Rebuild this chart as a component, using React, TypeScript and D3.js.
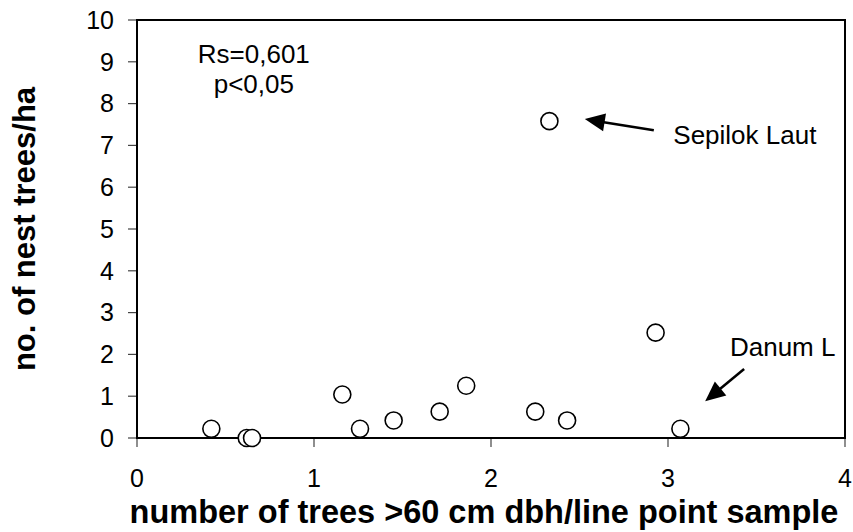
import React from "react";
import * as d3 from "d3";

// Sites: big trees per line-point sample vs. nest trees per hectare
const bigTrees = [0.42, 0.62, 0.65, 1.16, 1.26, 1.45, 1.71, 1.86, 2.25, 2.43, 2.93, 3.07, 2.33];
const nestTrees = [0.22, 0, 0, 1.04, 0.22, 0.42, 0.63, 1.25, 0.63, 0.42, 2.52, 0.22, 7.58];

const xTicks = [0, 1, 2, 3, 4];
const yTicks = [0, 1, 2, 3, 4, 5, 6, 7, 8, 9, 10];

// Labelled sites: arrow tail, arrow tip, label anchor (data units)
const annotations = [
  { label: "Sepilok Laut", tail: [2.92, 7.36], tip: [2.53, 7.63], text: [3.03, 7.04] },
  { label: "Danum L", tail: [3.43, 1.65], tip: [3.21, 0.88], text: [3.35, 1.95] },
];

const statLines = ["Rs=0,601", "p<0,05"];

const W = 853;
const H = 532;
const M = { left: 137, right: 8, top: 20, bottom: 94 };

export default function App() {
  const x = d3.scaleLinear().domain([0, 4]).range([M.left, W - M.right]);
  const y = d3.scaleLinear().domain([0, 10]).range([H - M.bottom, M.top]);
  const font = "Arial, 'Liberation Sans', sans-serif";

  const arrow = (tail: number[], tip: number[]) => {
    const x1 = x(tail[0]), y1 = y(tail[1]);
    const x2 = x(tip[0]), y2 = y(tip[1]);
    const ang = Math.atan2(y2 - y1, x2 - x1);
    const len = 20, half = 9;
    const bx = x2 - len * Math.cos(ang), by = y2 - len * Math.sin(ang);
    const px = -Math.sin(ang) * half, py = Math.cos(ang) * half;
    return {
      line: [x1, y1, bx + 4 * Math.cos(ang), by + 4 * Math.sin(ang)],
      head: `M${x2},${y2}L${bx + px},${by + py}L${bx - px},${by - py}Z`,
    };
  };

  return (
    <svg width={W} height={H} style={{ position: "absolute", left: 0, top: 0, background: "#fff" }} fontFamily={font}>
      {/* ticks */}
      {yTicks.map((t) => (
        <g key={"y" + t}>
          <line x1={x(0) - 9} x2={x(0)} y1={y(t)} y2={y(t)} stroke="#444" strokeWidth={1.2} />
          <text x={x(0) - 23} y={y(t)} dy="0.35em" textAnchor="end" fontSize={25} fill="#000">{t}</text>
        </g>
      ))}
      {xTicks.map((t) => (
        <g key={"x" + t}>
          <line x1={x(t)} x2={x(t)} y1={y(0)} y2={y(0) + 9} stroke="#444" strokeWidth={1.2} />
          <text x={x(t)} y={y(0) + 49} textAnchor="middle" fontSize={25} fill="#000">{t}</text>
        </g>
      ))}
      {/* plot frame */}
      <rect x={x(0)} y={y(10)} width={x(4) - x(0)} height={y(0) - y(10)} fill="none" stroke="#000" strokeWidth={2} />

      {/* points */}
      {bigTrees.map((v, i) => (
        <circle key={i} cx={x(v)} cy={y(nestTrees[i])} r={8.5} fill="#fff" stroke="#000" strokeWidth={1.6} />
      ))}

      {/* annotations */}
      {annotations.map((a) => {
        const ar = arrow(a.tail, a.tip);
        return (
          <g key={a.label}>
            <line x1={ar.line[0]} y1={ar.line[1]} x2={ar.line[2]} y2={ar.line[3]} stroke="#000" strokeWidth={2.5} />
            <path d={ar.head} fill="#000" />
            <text x={x(a.text[0])} y={y(a.text[1])} fontSize={26} fill="#000">{a.label}</text>
          </g>
        );
      })}
      {statLines.map((s, i) => (
        <text key={s} x={x(0.66)} y={63 + i * 30} textAnchor="middle" fontSize={26} fill="#000">{s}</text>
      ))}

      {/* axis titles */}
      <text x={(x(0) + x(4)) / 2 - 7} y={523} textAnchor="middle" fontSize={32.5} fontWeight="bold" fill="#000">
        number of trees &gt;60 cm dbh/line point sample
      </text>
      <text transform={`translate(35,${(y(0) + y(10)) / 2}) rotate(-90)`} textAnchor="middle" fontSize={31} fontWeight="bold" fill="#000">
        no. of nest trees/ha
      </text>
    </svg>
  );
}
